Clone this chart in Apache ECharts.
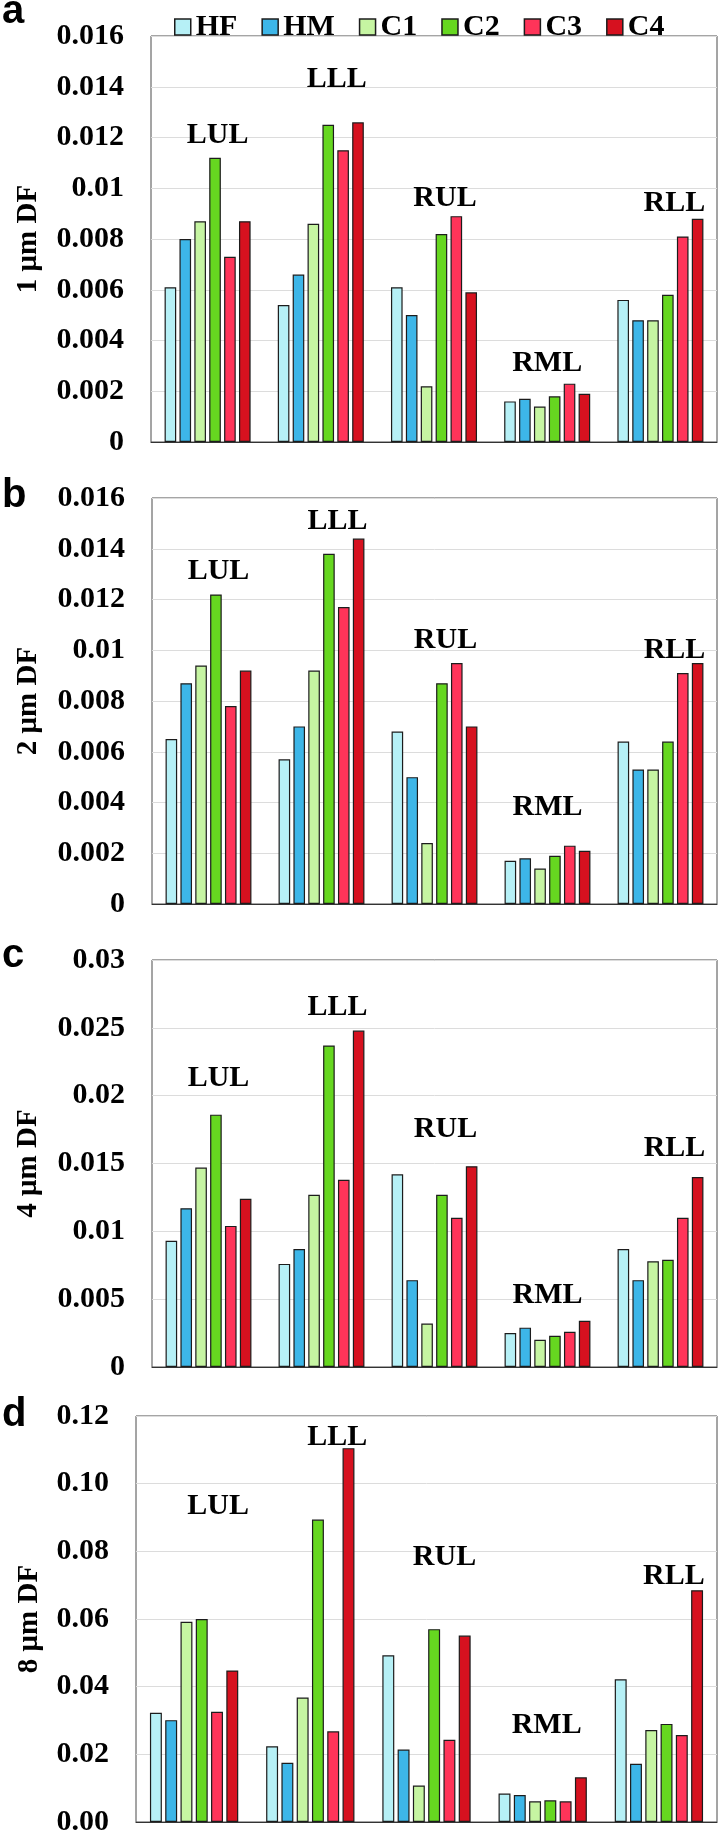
<!DOCTYPE html>
<html>
<head>
<meta charset="utf-8">
<script src="https://cdn.jsdelivr.net/npm/echarts@6/dist/echarts.min.js"></script>
<style>
html,body{margin:0;padding:0;background:#fff;}
#chart{width:720px;height:1834px;}
</style>
</head>
<body>
<div id="chart"></div>
<script>
// ---- data ----
const categories = ['LUL', 'LLL', 'RUL', 'RML', 'RLL'];
const seriesNames = ['HF', 'HM', 'C1', 'C2', 'C3', 'C4'];
const yNames = ['1 μm DF', '2 μm DF', '4 μm DF', '8 μm DF'];
const panelLetters = ['a', 'b', 'c', 'd'];

// panel a: 1 μm
const a_HF = [0.0061, 0.0054, 0.0061, 0.0016, 0.0056];
const a_HM = [0.0080, 0.0066, 0.0050, 0.0017, 0.0048];
const a_C1 = [0.0087, 0.0086, 0.0022, 0.0014, 0.0048];
const a_C2 = [0.0112, 0.0125, 0.0082, 0.0018, 0.0058];
const a_C3 = [0.0073, 0.0115, 0.0089, 0.0023, 0.0081];
const a_C4 = [0.0087, 0.0126, 0.0059, 0.0019, 0.0088];
// panel b: 2 μm
const b_HF = [0.0065, 0.0057, 0.0068, 0.0017, 0.0064];
const b_HM = [0.0087, 0.0070, 0.0050, 0.0018, 0.0053];
const b_C1 = [0.0094, 0.0092, 0.0024, 0.0014, 0.0053];
const b_C2 = [0.0122, 0.0138, 0.0087, 0.0019, 0.0064];
const b_C3 = [0.0078, 0.0117, 0.0095, 0.0023, 0.0091];
const b_C4 = [0.0092, 0.0144, 0.0070, 0.0021, 0.0095];
// panel c: 4 μm
const c_HF = [0.0093, 0.0076, 0.0142, 0.0025, 0.0087];
const c_HM = [0.0117, 0.0087, 0.0064, 0.0029, 0.0064];
const c_C1 = [0.0147, 0.0127, 0.0032, 0.0020, 0.0078];
const c_C2 = [0.0186, 0.0237, 0.0127, 0.0023, 0.0079];
const c_C3 = [0.0104, 0.0138, 0.0110, 0.0026, 0.0110];
const c_C4 = [0.0124, 0.0248, 0.0148, 0.0034, 0.0140];
// panel d: 8 μm
const d_HF = [0.0323, 0.0224, 0.0493, 0.0084, 0.0422];
const d_HM = [0.0301, 0.0175, 0.0214, 0.0080, 0.0172];
const d_C1 = [0.0592, 0.0368, 0.0108, 0.0061, 0.0272];
const d_C2 = [0.0600, 0.0894, 0.0570, 0.0064, 0.0290];
const d_C3 = [0.0326, 0.0268, 0.0243, 0.0061, 0.0257];
const d_C4 = [0.0448, 0.1105, 0.0551, 0.0132, 0.0685];

// level (in axis units) where each group name sits
const a_nameLevel = [0.0121, 0.0143, 0.0096, 0.0031, 0.0094];
const b_nameLevel = [0.0131, 0.0151, 0.0104, 0.0038, 0.0100];
const c_nameLevel = [0.0213, 0.0265, 0.0175, 0.0053, 0.0161];
const d_nameLevel = [0.0932, 0.1137, 0.0782, 0.0286, 0.0725];

// tick labels
const ticksA = ['0', '0.002', '0.004', '0.006', '0.008', '0.01', '0.012', '0.014', '0.016'];
const ticksB = ['0', '0.002', '0.004', '0.006', '0.008', '0.01', '0.012', '0.014', '0.016'];
const ticksC = ['0', '0.005', '0.01', '0.015', '0.02', '0.025', '0.03'];
const ticksD = ['0.00', '0.02', '0.04', '0.06', '0.08', '0.10', '0.12'];

// ---- styling / layout ----
const colors = ['#b6f0f6', '#3db6e8', '#c6f5a2', '#66d720', '#ff3459', '#d6111f'];
const serif = 'Liberation Serif';
const panels = [
  { grid: { left: 151, top: 36, width: 566, height: 406 }, max: 0.016, interval: 0.002, ticks: ticksA,
    values: [a_HF, a_HM, a_C1, a_C2, a_C3, a_C4], level: a_nameLevel, dx: [10, 16, 11, 0, 14], nameGap: 108 },
  { grid: { left: 152, top: 498, width: 565, height: 406 }, max: 0.016, interval: 0.002, ticks: ticksB,
    values: [b_HF, b_HM, b_C1, b_C2, b_C3, b_C4], level: b_nameLevel, dx: [10, 16, 11, 0, 14], nameGap: 109 },
  { grid: { left: 152, top: 960, width: 565, height: 407 }, max: 0.03, interval: 0.005, ticks: ticksC,
    values: [c_HF, c_HM, c_C1, c_C2, c_C3, c_C4], level: c_nameLevel, dx: [10, 16, 11, 0, 14], nameGap: 109 },
  { grid: { left: 136, top: 1416, width: 581, height: 406 }, max: 0.12, interval: 0.02, ticks: ticksD,
    values: [d_HF, d_HM, d_C1, d_C2, d_C3, d_C4], level: d_nameLevel, dx: [24, 27, 18, 4, 15], nameGap: 92 }
];

const grids = [], xAxes = [], yAxes = [], series = [], graphics = [];
const letterY = [16, 500, 960, 1419];

panels.forEach((p, gi) => {
  grids.push(Object.assign({
    show: true, borderColor: '#4a4a4a', borderWidth: 1, backgroundColor: 'transparent',
    containLabel: false, outerBoundsMode: 'none'
  }, p.grid));
  xAxes.push({
    type: 'category', gridIndex: gi, data: categories,
    axisLine: { show: true, lineStyle: { color: '#333', width: 1.2 } },
    axisTick: { show: false }, axisLabel: { show: false }, splitLine: { show: false }
  });
  const ticks = p.ticks, iv = p.interval;
  yAxes.push({
    type: 'value', gridIndex: gi, min: 0, max: p.max, interval: iv,
    name: yNames[gi], nameLocation: 'middle', nameRotate: 90, nameGap: p.nameGap,
    nameTextStyle: { fontFamily: serif, fontWeight: 'bold', fontSize: 29, color: '#000' },
    axisLine: { show: false }, axisTick: { show: false },
    axisLabel: {
      fontFamily: serif, fontWeight: 'bold', fontSize: 30, color: '#000', margin: 27,
      formatter: v => ticks[Math.round(v / iv)]
    },
    splitLine: { show: true, lineStyle: { color: '#dcdcdc', width: 1 } }
  });
  seriesNames.forEach((nm, si) => {
    series.push({
      type: 'bar', name: nm, xAxisIndex: gi, yAxisIndex: gi,
      data: p.values[si],
      barCategoryGap: '24%', barGap: '28%',
      itemStyle: { color: colors[si], borderColor: '#1c1c1c', borderWidth: 1.2 },
      emphasis: { disabled: true }, animation: false
    });
  });
  series.push({
    type: 'scatter', name: 'groupNames' + gi, xAxisIndex: gi, yAxisIndex: gi,
    symbolSize: 0, itemStyle: { color: 'transparent', opacity: 1 }, z: 10, animation: false, silent: true,
    data: categories.map((c, ci) => ({
      value: [ci, p.level[ci]],
      label: { offset: [p.dx[ci], 0] }
    })),
    label: {
      show: true, position: 'inside', color: '#000', textBorderWidth: 0, textBorderColor: 'transparent',
      fontFamily: serif, fontWeight: 'bold', fontSize: 30,
      formatter: prm => categories[prm.dataIndex]
    }
  });
  graphics.push({
    type: 'text', left: 2, top: letterY[gi] - 24,
    style: { text: panelLetters[gi], font: 'bold 40px "Liberation Sans", Arial, sans-serif', fill: '#000' }
  });
});

const chart = echarts.init(document.getElementById('chart'), null, { renderer: 'canvas' });
chart.setOption({
  animation: false,
  backgroundColor: '#fff',
  legend: {
    data: seriesNames, left: 169, top: 7, itemWidth: 16, itemHeight: 16, itemGap: 24,
    icon: 'rect', selectedMode: false,
    itemStyle: { borderColor: '#1c1c1c', borderWidth: 1.5 },
    textStyle: { fontFamily: serif, fontWeight: 'bold', fontSize: 30, color: '#000', padding: [0, 0, 0, 0] }
  },
  grid: grids, xAxis: xAxes, yAxis: yAxes, series: series, graphic: graphics
});
</script>
</body>
</html>
